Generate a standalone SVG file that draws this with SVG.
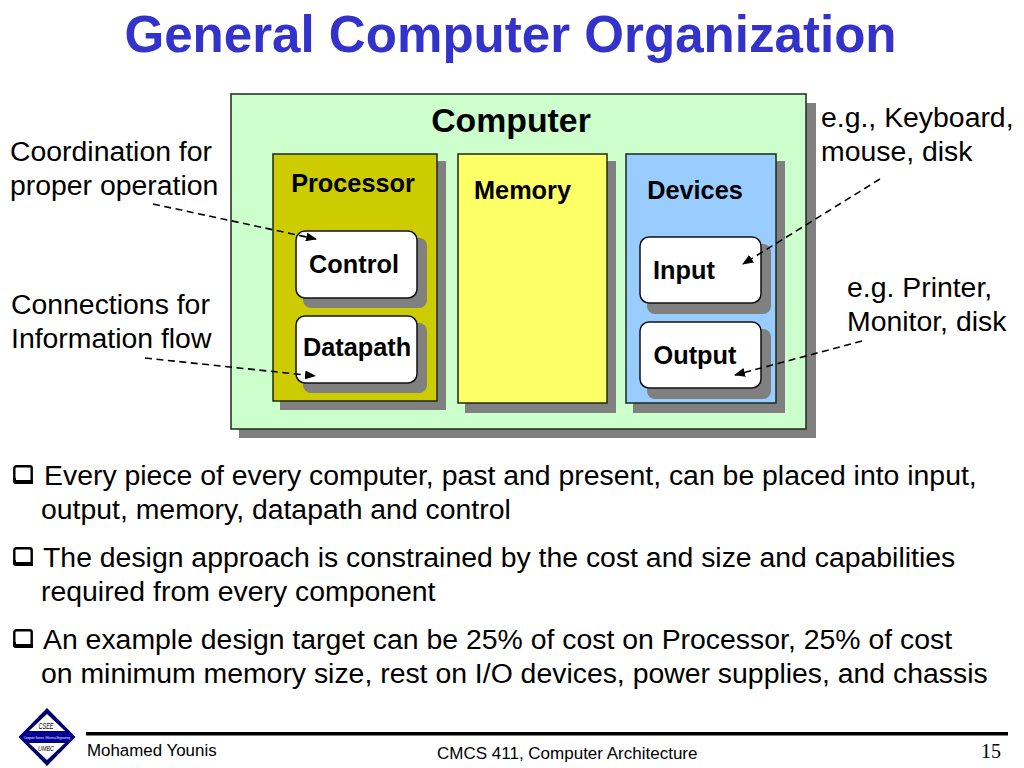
<svg xmlns="http://www.w3.org/2000/svg" width="1024" height="768" viewBox="0 0 1024 768">
<style>
text{font-family:"Liberation Sans",Arial,sans-serif;fill:#000}
.b{font-weight:bold}
.l{font-size:28.4px}
.h{font-size:25.3px;font-weight:bold}
.s{fill:#808080}
.box{stroke:#1a2a1a;stroke-width:1.5}
.inner{fill:#fff;stroke:#111;stroke-width:1.5}
.conn{fill:none;stroke:#000;stroke-width:1.6;stroke-dasharray:7 4.5}
</style>
<defs>
<marker id="arr" markerUnits="userSpaceOnUse" markerWidth="11" markerHeight="9" refX="10" refY="4.5" orient="auto"><path d="M0 0L11 4.500L0 9Z" fill="#000"/></marker>
<g id="bullet"><rect x="1.3" y="1.3" width="17.4" height="16.4" rx="2" fill="none" stroke="#000" stroke-width="2.4"/><path d="M0 13h3v2h17v4H3Q0 19 0 16Z" fill="#000"/></g>
</defs>
<rect width="1024" height="768" fill="#fff"/>
<text id="title" x="510.5" y="52" text-anchor="middle" class="b" font-size="51.1" style="fill:#3333cc">General Computer Organization</text>
<g id="computer">
<rect class="s" x="239" y="103" width="577" height="335"/>
<rect class="box" x="231" y="94" width="575" height="335" fill="#ccffcc"/>
<text x="511" y="132" text-anchor="middle" class="b" font-size="33.8">Computer</text>
</g>
<g id="processor">
<rect class="s" x="280" y="161" width="166" height="249"/>
<rect class="box" x="273" y="154" width="164" height="247" fill="#cccc00"/>
<text x="353" y="192" text-anchor="middle" class="h">Processor</text>
</g>
<g id="memory">
<rect class="s" x="465" y="161" width="151" height="252"/>
<rect class="box" x="458" y="154" width="149" height="249" fill="#ffff66"/>
<text x="522.500" y="199" text-anchor="middle" class="h">Memory</text>
</g>
<g id="devices">
<rect class="s" x="633" y="161" width="152" height="252"/>
<rect class="box" x="626" y="154" width="150" height="249" fill="#99ccff"/>
<text x="695" y="199" text-anchor="middle" class="h">Devices</text>
</g>
<g id="control">
<rect class="s" x="303" y="238" width="124" height="70" rx="8"/>
<rect class="inner" x="296" y="231" width="121" height="67" rx="9"/>
<text x="354" y="273" text-anchor="middle" class="h">Control</text>
</g>
<g id="datapath">
<rect class="s" x="303" y="323" width="124" height="70" rx="8"/>
<rect class="inner" x="296" y="316" width="121" height="67" rx="9"/>
<text x="357" y="356" text-anchor="middle" class="h">Datapath</text>
</g>
<g id="input">
<rect class="s" x="647" y="244" width="124" height="70" rx="8"/>
<rect class="inner" x="640" y="237" width="121" height="66" rx="9"/>
<text x="684" y="279" text-anchor="middle" class="h">Input</text>
</g>
<g id="output">
<rect class="s" x="647" y="329" width="124" height="70" rx="8"/>
<rect class="inner" x="640" y="322" width="121" height="66" rx="9"/>
<text x="695" y="364" text-anchor="middle" class="h">Output</text>
</g>
<g id="connectors">
<path class="conn" marker-end="url(#arr)" d="M153 204L316 239"/>
<path class="conn" marker-end="url(#arr)" d="M145 358L315 376"/>
<path class="conn" marker-end="url(#arr)" d="M880 179L743 264"/>
<path class="conn" marker-end="url(#arr)" d="M862 341L735 375"/>
</g>
<g id="annotations">
<text x="10" y="161" class="l">Coordination for</text>
<text x="10" y="195" class="l">proper operation</text>
<text x="11" y="314" class="l">Connections for</text>
<text x="11" y="348" class="l">Information flow</text>
<text x="821" y="127" class="l">e.g., Keyboard,</text>
<text x="821" y="161" class="l">mouse, disk</text>
<text x="847" y="297" class="l">e.g. Printer,</text>
<text x="847" y="331" class="l">Monitor, disk</text>
</g>
<g id="bullets">
<use href="#bullet" x="13" y="465"/>
<use href="#bullet" x="13" y="547"/>
<use href="#bullet" x="13" y="629"/>
<text x="44" y="485" class="l">Every piece of every computer, past and present, can be placed into input,</text>
<text x="41" y="519" class="l">output, memory, datapath and control</text>
<text x="43" y="567" class="l">The design approach is constrained by the cost and size and capabilities</text>
<text x="41" y="601" class="l">required from every component</text>
<text x="43" y="649" class="l">An example design target can be 25% of cost on Processor, 25% of cost</text>
<text x="41" y="683" class="l">on minimum memory size, rest on I/O devices, power supplies, and chassis</text>
</g>
<g id="logo">
<path d="M47 708L75.500 737L47 766L18.500 737Z" fill="#000066"/>
<path d="M47 714L65 731H29Z" fill="#fff"/>
<path d="M47 760L65 743H29Z" fill="#fff"/>
<path d="M25 732H69L73 737L69 742H25L21 737Z" fill="#000099"/>
<text x="46" y="729" text-anchor="middle" font-size="8.500" font-style="italic" textLength="15" lengthAdjust="spacingAndGlyphs">CSEE</text>
<text x="47" y="738.500" text-anchor="middle" font-size="3.600" textLength="46" lengthAdjust="spacingAndGlyphs" style="fill:#fff">Computer Science / Electrical Engineering</text>
<text x="46" y="751" text-anchor="middle" font-size="8" font-style="italic" textLength="16" lengthAdjust="spacingAndGlyphs">UMBC</text>
</g>
<g id="footer">
<rect x="86" y="732" width="922" height="3.500" fill="#000"/>
<text x="87" y="756" font-size="16.900">Mohamed Younis</text>
<text x="437" y="759" font-size="17">CMCS 411, Computer Architecture</text>
<text x="981" y="758" font-size="20" style="font-family:'Liberation Serif',serif">15</text>
</g>
</svg>
